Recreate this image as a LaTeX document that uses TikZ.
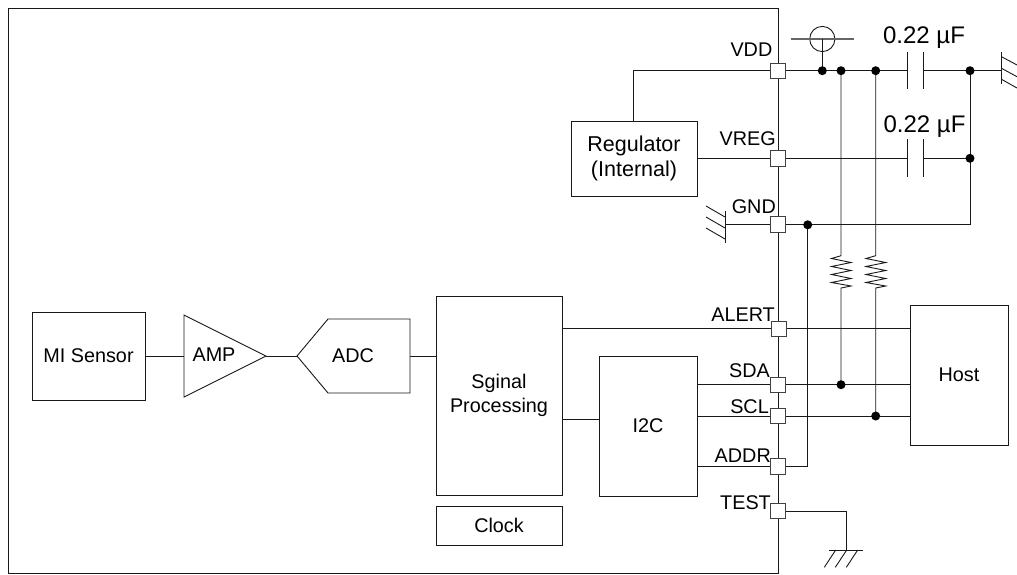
\documentclass[tikz,border=0pt]{standalone}
\usepackage{fontspec}
\setmainfont{Liberation Sans}
\usetikzlibrary{backgrounds}
\tikzset{
  x=1pt,y=-1pt,
  wire/.style={draw=black!90,line width=0.9pt},
  blk/.style={draw=black!90,line width=0.9pt,fill=white,inner sep=0pt,align=center,font=\fontsize{19.8}{24}\selectfont},
  pad/.style={draw=black!75,line width=0.9pt,fill=white,minimum size=15.5pt,inner sep=0pt},
  plab/.style={font=\fontsize{19.8}{22}\selectfont,inner sep=0pt,anchor=base east},
  caplab/.style={font=\fontsize{24}{26}\selectfont,inner sep=0pt,anchor=base},
  dotn/.style={circle,fill=black,minimum size=9pt,inner sep=0pt},
  txt/.style={font=\fontsize{19.8}{22}\selectfont,inner sep=0pt},
}
\begin{document}
\begin{tikzpicture}
\useasboundingbox (0,0) rectangle (1017,574);
% blocks
\node[blk,minimum width=113pt,minimum height=88pt] (mi) at (88.5,356) {MI Sensor};
\node[blk,minimum width=126pt,minimum height=199pt] (sp) at (499,395.5) {Sginal\\Processing};
\node[blk,minimum width=126pt,minimum height=39pt] (clk) at (499,525.5) {Clock};
\node[blk,minimum width=98pt,minimum height=140pt] (i2c) at (648,426) {I2C};
\node[blk,minimum width=126pt,minimum height=75pt,font=\fontsize{21.5}{25}\selectfont] (reg) at (634,158.5) {Regulator\\(Internal)};
\node[blk,minimum width=98pt,minimum height=140pt] (host) at (959,375) {Host};
% amp, adc
\coordinate (ampIn) at (184,356); \coordinate (ampOut) at (266,356);
\draw[wire,fill=white] (184,315) -- (ampOut) -- (184,397) -- cycle;
\node[txt] (amp) at (214,355) {AMP};
\coordinate (adcIn) at (297,356); \coordinate (adcOut) at (410,356);
\draw[wire,fill=white] (adcIn) -- (328,319) -- (410,319) -- (410,393) -- (328,393) -- cycle;
\node[txt] (adc) at (353,356) {ADC};
% pads
\node[pad] (pVDD) at (778,70.7) {};
\node[pad] (pVREG) at (778,158.3) {};
\node[pad] (pGND) at (778,224.3) {};
\node[pad] (pALERT) at (779,328.8) {};
\node[pad] (pSDA) at (778,384.7) {};
\node[pad] (pSCL) at (778,416) {};
\node[pad] (pADDR) at (778,466.5) {};
\node[pad] (pTEST) at (778,511) {};
% dots
\node[dotn] (dA) at (822.3,70.7) {};
\node[dotn] (dB) at (841,70.7) {};
\node[dotn] (dC) at (875.7,70.7) {};
\node[dotn] (dD) at (970,70.7) {};
\node[dotn] (dE) at (970,158.3) {};
\node[dotn] (dF) at (807.7,224.8) {};
\node[dotn] (dG) at (841,384.7) {};
\node[dotn] (dH) at (875.7,416) {};
% capacitor values
\node[caplab] (capA) at (924,43.3) {0.22 µF};
\node[caplab] (capB) at (924.5,132) {0.22 µF};
% pin labels
\node[plab] (lVDD) at (772.5,56.7) {VDD};
\node[plab] (lVREG) at (776,145) {VREG};
\node[plab] (lGND) at (776,213.3) {GND};
\node[plab] (lALERT) at (775,321.7) {ALERT};
\node[plab] (lSDA) at (770,377.7) {SDA};
\node[plab] (lSCL) at (769,413.3) {SCL};
\node[plab] (lADDR) at (771,462.7) {ADDR};
\node[plab] (lTEST) at (771,509.3) {TEST};
% wires (all behind blocks and pads)
\begin{pgfonlayer}{background}
\coordinate (chipTL) at (8,8); \coordinate (chipBR) at (778,573);
\draw[wire] (chipTL) rectangle (chipBR);
\draw[wire] (mi.east) -- (ampIn);
\draw[wire] (ampOut) -- (adcIn);
\draw[wire] (adcOut) -- (adcOut-|sp.west);
\coordinate (regTop) at (633.5,121);
\draw[wire] (pVDD.center) -- (regTop|-pVDD) -- (regTop);
\draw[wire] (reg.east|-pVREG) -- (pVREG.center);
\draw[wire] (sp.east|-pALERT) -- (pALERT.center);
\draw[wire] (i2c.east|-pSDA) -- (pSDA.center);
\draw[wire] (i2c.east|-pSCL) -- (pSCL.center);
\draw[wire] (i2c.east|-pADDR) -- (pADDR.center);
\coordinate (spI) at (562,419.3);
\draw[wire] (spI) -- (spI-|i2c.west);
% GND left ground
\coordinate (gl) at (725,224.3);
\draw[wire] (pGND.center) -- (gl);
\draw[wire] (725,211) -- (725,243);
\draw[wire] (706,206) -- (725,217);
\draw[wire] (706,217) -- (725,228);
\draw[wire] (706,228) -- (725,239);
% caps
\coordinate (c1a) at (907,70.7); \coordinate (c1b) at (923,70.7);
\coordinate (c2a) at (907,158.3); \coordinate (c2b) at (923,158.3);
\coordinate (gr) at (1001.5,70.7);
\draw[wire] (pVDD.center) -- (c1a);
\draw[wire] (c1b) -- (dD.center) -- (gr);
\draw[wire] (907,52) -- (907,89); \draw[wire] (923,52) -- (923,89);
\draw[wire] (pVREG.center) -- (c2a);
\draw[wire] (c2b) -- (dE.center);
\draw[wire] (907,139) -- (907,177); \draw[wire] (923,139) -- (923,177);
\draw[wire] (dD.center) -- (dD|-pGND) -- (pGND.center);
% VDD ground
\draw[wire] (1001.5,52) -- (1001.5,84);
\draw[wire] (1001.5,56.7) -- (1017,65);
\draw[wire] (1001.5,68.3) -- (1017,76.7);
\draw[wire] (1001.5,79.3) -- (1017,88);
% supply symbol
\node[circle,draw=black!90,line width=0.9pt,minimum size=25.2pt,inner sep=0pt] (sym) at (822.3,39) {};
\draw[draw=black!60,line width=1.1pt] (790.7,39) -- (853.7,39);
\draw[wire] (sym.center) -- (dA.center);
% resistors
\draw[wire] (dB.center) -- (841,255.7) -- (831.5,258.5) -- (851,262.5) -- (831.5,266.5) -- (851,270.5) -- (831.5,274.5) -- (851,278.5) -- (831.5,282.5) -- (851,286) -- (841,288) -- (dG.center);
\draw[wire] (dC.center) -- (875.7,255.7) -- (866,258.5) -- (885.7,262.5) -- (866,266.5) -- (885.7,270.5) -- (866,274.5) -- (885.7,278.5) -- (866,282.5) -- (885.7,286) -- (875.7,288) -- (dH.center);
% host wires
\draw[wire] (pALERT.center) -- (pALERT-|host.west);
\draw[wire] (pSDA.center) -- (pSDA-|host.west);
\draw[wire] (pSCL.center) -- (pSCL-|host.west);
\draw[wire] (pADDR.center) -- (dF|-pADDR) -- (dF.center);
% TEST ground
\coordinate (tg) at (846.3,550);
\draw[wire] (pTEST.center) -- (tg|-pTEST) -- (tg);
\draw[wire] (829,550) -- (863,550);
\draw[wire] (835.7,550) -- (824.3,567.3);
\draw[wire] (846.7,550) -- (835.3,567.3);
\draw[wire] (857.7,550) -- (846.3,567.3);
\end{pgfonlayer}
\end{tikzpicture}
\end{document}
